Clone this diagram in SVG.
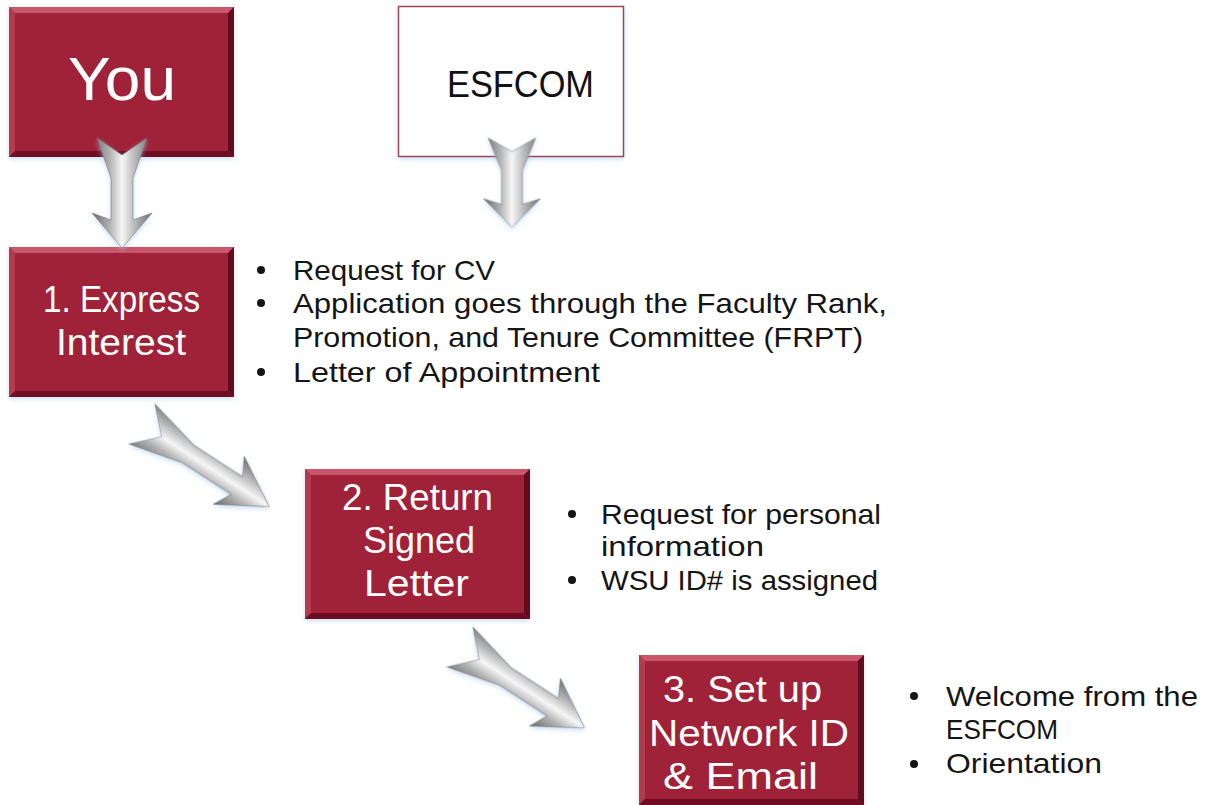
<svg xmlns="http://www.w3.org/2000/svg" width="1208" height="805" viewBox="0 0 1208 805">
  <defs>
    <style>
      .lbl{font-family:"Liberation Sans",Arial,sans-serif;fill:#ffffff;font-size:37px}
      .bul{font-family:"Liberation Sans",Arial,sans-serif;font-size:28px;fill:#151515}
      .dot{fill:#151515}
    </style>
    <!-- metallic shading across the arrow body -->
    <linearGradient id="steel" x1="0" y1="0" x2="0" y2="1">
      <stop offset="0" stop-color="#6c6c6c"/>
      <stop offset="0.3" stop-color="#bcbcbc"/>
      <stop offset="0.5" stop-color="#f6f6f6"/>
      <stop offset="0.7" stop-color="#b4b4b4"/>
      <stop offset="1" stop-color="#686868"/>
    </linearGradient>
    <!-- soft bluish halo under shapes -->
    <filter id="glow" x="-20%" y="-20%" width="140%" height="140%">
      <feGaussianBlur in="SourceAlpha" stdDeviation="2.5" result="b"/>
      <feOffset in="b" dy="1.5" result="o"/>
      <feFlood flood-color="#9cc2e8" flood-opacity="0.55" result="c"/>
      <feComposite in="c" in2="o" operator="in" result="s"/>
      <feMerge><feMergeNode in="s"/><feMergeNode in="SourceGraphic"/></feMerge>
    </filter>
    <!-- fletched arrow pointing along +x, tail at origin -->
    <path id="arrow" d="M0,-25 L17,0 L0,25 L40,11 L82,11 L75,30 L110,0 L75,-30 L82,-11 L40,-11 Z"
          fill="url(#steel)" stroke="#7a7a7a" stroke-width="0.6"/>
    <!-- bevelled maroon box -->
    <g id="bevelBox">
      <rect width="225" height="150" fill="#a02238"/>
      <polygon points="0,0 225,0 219,6 6,6" fill="#c9566a"/>
      <polygon points="0,0 6,6 6,144 0,150" fill="#b23a4e"/>
      <polygon points="225,0 225,150 219,144 219,6" fill="#5e0c1a"/>
      <polygon points="0,150 225,150 219,144 6,144" fill="#6e1020"/>
    </g>
  </defs>

  <rect width="1208" height="805" fill="#ffffff"/>

  <g id="node-you">
    <use href="#bevelBox" x="9" y="7" filter="url(#glow)"/>
    <text class="lbl" x="68" y="100" style="font-size:62px" textLength="108" lengthAdjust="spacingAndGlyphs">You</text>
  </g>

  <g id="node-esfcom">
    <rect x="398.5" y="6.5" width="225" height="150" fill="#ffffff" stroke="#9a4556" stroke-width="1.5" filter="url(#glow)"/>
    <text x="447" y="97" font-family="'Liberation Sans',Arial,sans-serif" font-size="36" fill="#111111" textLength="147" lengthAdjust="spacingAndGlyphs">ESFCOM</text>
  </g>

  <g id="node-step1">
    <use href="#bevelBox" x="9" y="247" filter="url(#glow)"/>
    <text class="lbl">
      <tspan x="43" y="312" textLength="157" lengthAdjust="spacingAndGlyphs">1. Express</tspan>
      <tspan x="56" y="355" textLength="130" lengthAdjust="spacingAndGlyphs">Interest</tspan>
    </text>
  </g>

  <g id="notes-step1">
    <circle class="dot" cx="261" cy="270" r="4"/>
    <circle class="dot" cx="261" cy="303" r="4"/>
    <circle class="dot" cx="261" cy="372" r="4"/>
    <text class="bul">
      <tspan x="293" y="280" textLength="202" lengthAdjust="spacingAndGlyphs">Request for CV</tspan>
      <tspan x="293" y="313" textLength="594" lengthAdjust="spacingAndGlyphs">Application goes through the Faculty Rank,</tspan>
      <tspan x="293" y="347" textLength="570" lengthAdjust="spacingAndGlyphs">Promotion, and Tenure Committee (FRPT)</tspan>
      <tspan x="293" y="382" textLength="307" lengthAdjust="spacingAndGlyphs">Letter of Appointment</tspan>
    </text>
  </g>

  <g id="node-step2">
    <use href="#bevelBox" x="305" y="469" filter="url(#glow)"/>
    <text class="lbl">
      <tspan x="342" y="510" textLength="151" lengthAdjust="spacingAndGlyphs">2. Return</tspan>
      <tspan x="363" y="553" textLength="112" lengthAdjust="spacingAndGlyphs">Signed</tspan>
      <tspan x="364" y="596" textLength="105" lengthAdjust="spacingAndGlyphs">Letter</tspan>
    </text>
  </g>

  <g id="notes-step2">
    <circle class="dot" cx="572" cy="514" r="4"/>
    <circle class="dot" cx="572" cy="580" r="4"/>
    <text class="bul">
      <tspan x="601" y="524" textLength="280" lengthAdjust="spacingAndGlyphs">Request for personal</tspan>
      <tspan x="601" y="556" textLength="163" lengthAdjust="spacingAndGlyphs">information</tspan>
      <tspan x="601" y="590" textLength="277" lengthAdjust="spacingAndGlyphs">WSU ID# is assigned</tspan>
    </text>
  </g>

  <g id="node-step3">
    <use href="#bevelBox" x="639" y="655" filter="url(#glow)"/>
    <text class="lbl">
      <tspan x="663" y="702" textLength="159" lengthAdjust="spacingAndGlyphs">3. Set up</tspan>
      <tspan x="649" y="746" textLength="200" lengthAdjust="spacingAndGlyphs">Network ID</tspan>
      <tspan x="663" y="789" textLength="155" lengthAdjust="spacingAndGlyphs">&amp; Email</tspan>
    </text>
  </g>

  <g id="notes-step3">
    <circle class="dot" cx="914" cy="696" r="4"/>
    <circle class="dot" cx="914" cy="764" r="4"/>
    <text class="bul">
      <tspan x="946" y="706" textLength="252" lengthAdjust="spacingAndGlyphs">Welcome from the</tspan>
      <tspan x="946" y="739" textLength="112" lengthAdjust="spacingAndGlyphs">ESFCOM</tspan>
      <tspan x="946" y="773" textLength="156" lengthAdjust="spacingAndGlyphs">Orientation</tspan>
    </text>
  </g>

  <g id="connectors" filter="url(#glow)">
    <use href="#arrow" transform="translate(122,138) rotate(90)"/>
    <use href="#arrow" transform="translate(512,138) rotate(90) scale(0.81,0.95)"/>
    <use href="#arrow" transform="translate(142,424) rotate(33) scale(1.38,0.95)"/>
    <use href="#arrow" transform="translate(460,647) rotate(33) scale(1.35,0.95)"/>
  </g>
</svg>
